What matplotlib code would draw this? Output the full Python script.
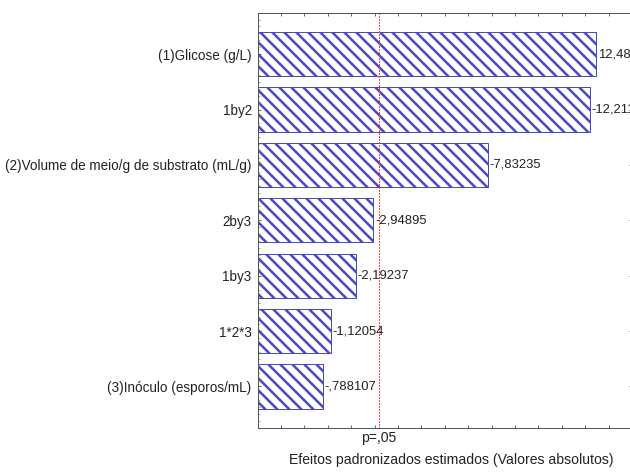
import numpy as np
import matplotlib
matplotlib.use('Agg')
from matplotlib import pyplot as plt
from matplotlib.ticker import MultipleLocator

# Pareto chart of standardized effects
effects = ['(1)Glicose (g/L)', '1by2', '(2)Volume de meio/g de substrato (mL/g)',
           '2by3', '1by3', '1*2*3', '(3)Inóculo (esporos/mL)']
t_values = [12.4815, -12.2118, -7.83235, -2.94895, -2.19237, -1.12054, -0.788107]
p_crit = 3.182446  # t(0.025; 3 gl)
p_label = 'p=,05'
x_label = 'Efeitos padronizados estimados (Valores absolutos)'


def stat_fmt(v):
    s = f'{v:.6g}'
    if s.startswith('-0.'):
        s = '-' + s[2:]
    elif s.startswith('0.'):
        s = s[1:]
    return s.replace('.', ',')


plt.rcParams['font.family'] = ['Liberation Sans', 'DejaVu Sans']
plt.rcParams['hatch.linewidth'] = 2.5
plt.rcParams['hatch.color'] = '#2c2c9c'

dpi = 72
fig = plt.figure(figsize=(630 / dpi, 472 / dpi), dpi=dpi)
ax = fig.add_axes([0.409, 0.0932, 0.594, 0.880])

x_min, x_max = -2.0, 14.0
y = np.arange(len(effects))
lengths = np.abs(t_values)
ax.barh(y, lengths - x_min, left=x_min, height=0.8, color='white',
        edgecolor='#4a4ac0', linewidth=1.0, hatch='\\\\')

for yi, v, L in zip(y, t_values, lengths):
    ax.text(L + 0.07, yi, stat_fmt(v), va='center', ha='left',
            fontsize=13, color='#222222')

# critical t line
ax.axvline(p_crit, color='#ff3c3c', linestyle=(0, (1.2, 1.8)), linewidth=1.0,
           antialiased=False)

ax.set_xlim(x_min, x_max)
ax.set_ylim(len(effects) - 0.25, -0.75)
ax.set_yticks(y)
ax.set_yticklabels(effects, fontsize=13.5, color='#222222')
ax.yaxis.set_minor_locator(MultipleLocator(0.125))
ax.xaxis.set_major_locator(MultipleLocator(1))
ax.set_xticklabels([])

ax.tick_params(axis='x', which='major', direction='in', length=3, top=True,
               bottom=True, color='#444444')
ax.tick_params(axis='y', which='major', direction='in', length=3, left=True,
               right=True, pad=6, color='#444444')
ax.tick_params(axis='y', which='minor', direction='in', length=2, left=True,
               right=False, color='#666666')
for sp in ax.spines.values():
    sp.set_color('#555555')
    sp.set_linewidth(1.0)

ax.annotate(p_label, xy=(p_crit, 0), xycoords=('data', 'axes fraction'),
            xytext=(0, -10), textcoords='offset points', ha='center', va='center',
            fontsize=14, color='#222222')
ax.set_xlabel(x_label, fontsize=14, color='#222222', va='center')
ax.xaxis.set_label_coords(0.518, -0.078)

fig.savefig('out.png', dpi=dpi, facecolor='white')
